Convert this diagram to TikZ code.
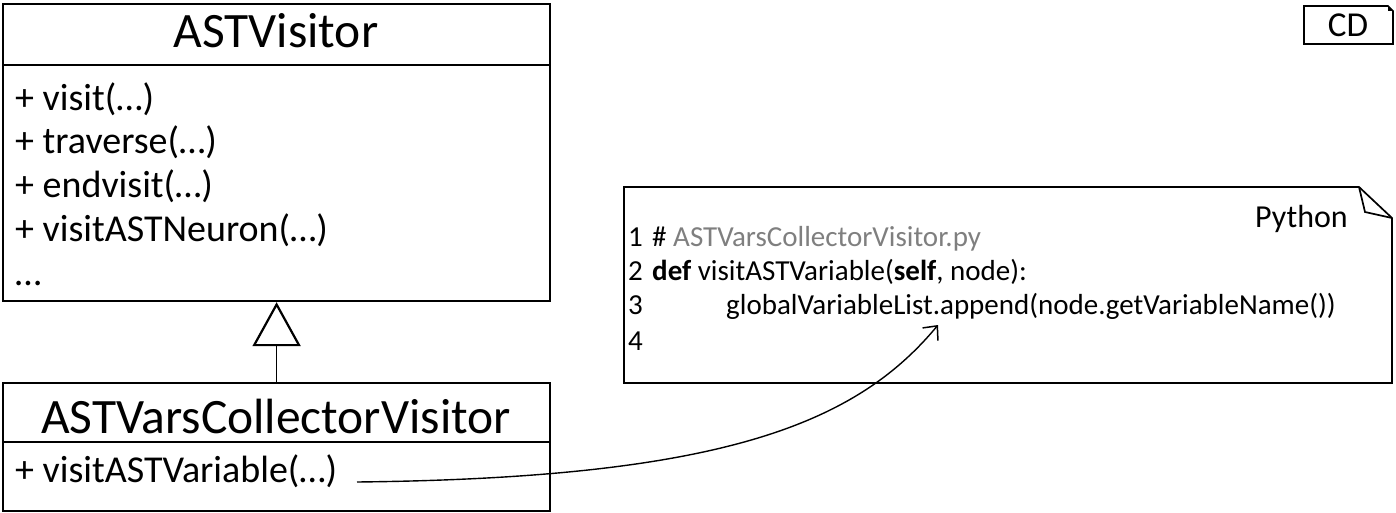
\documentclass[tikz,border=0pt]{standalone}
\usepackage{fontspec}
\setmainfont{Carlito}
\usetikzlibrary{arrows.meta}
\definecolor{commentgray}{HTML}{7F7F7F}
\begin{document}
\begin{tikzpicture}[x=1pt,y=-1pt,
  box/.style={draw, line width=2.2pt, inner sep=0pt, anchor=north west},
  divider/.style={line width=1.8pt},
  classname/.style={font=\fontsize{49.5}{58}\selectfont, inner sep=0pt, anchor=base},
  member/.style={font=\fontsize{38}{46}\selectfont, inner sep=0pt, anchor=base west},
  code/.style={font=\fontsize{29}{34}\selectfont, inner sep=0pt, anchor=base west},
  comment/.style={code, text=commentgray},
  outline/.style={line width=1.7pt, line join=miter},
  link/.style={line width=1.4pt, -{Straight Barb[length=11pt,width=20pt,line width=1.5pt]}}
]
\useasboundingbox (0,0) rectangle (1396,513);

% ASTVisitor class
\node[box, minimum width=547pt, minimum height=297pt] (visitor) at (2,3) {};
\draw[divider] ([yshift=-62pt]visitor.north west) -- ([yshift=-62pt]visitor.north east);
\node[classname] (visitorName) at (276,48) {ASTVisitor};
\node[member] (m1) at (15,111) {+ visit(…)};
\node[member] (m2) at (15,154) {+ traverse(…)};
\node[member] (m3) at (15,197) {+ endvisit(…)};
\node[member] (m4) at (15,241) {+ visitASTNeuron(…)};
\node[member] (m5) at (15,285) {…};

% ASTVarsCollectorVisitor class
\node[box, minimum width=547pt, minimum height=128pt] (collector) at (2,382) {};
\draw[divider] ([yshift=-60pt]collector.north west) -- ([yshift=-60pt]collector.north east);
\node[classname] (collectorName) at (276,433) {ASTVarsCollectorVisitor};
\node[member] (cm1) at (15,482) {+ visitASTVariable(…)};

% generalization
\draw[line width=1.3pt, -{Triangle[open,length=44pt,width=48pt,line width=2.2pt]}]
  (collector.north) -- (visitor.south);

% note
\coordinate (nA) at (1359,187);
\coordinate (nB) at (1365,212);
\coordinate (nC) at (1392,218);
\draw[outline] (624,187) -- (nA) -- (nC) -- (1392,383) -- (624,383) -- cycle;
\draw[outline] (nA) -- (nB) -- (nC);
\node[font=\fontsize{32}{38}\selectfont, inner sep=0pt, anchor=base east] (lang) at (1348,227) {Python};
\node[code] (n1) at (628,246) {1};
\node[comment] (c1) at (652,246) {\textcolor{black}{\#} ASTVarsCollectorVisitor.py};
\node[code] (n2) at (628,280) {2};
\node[code] (c2) at (652,280) {\textbf{def} visitASTVariable(\textbf{self}, node):};
\node[code] (n3) at (628,314) {3};
\node[code] (c3) at (726,314) {globalVariableList.append(node.getVariableName())};
\node[code] (n4) at (628,350) {4};

% CD tag
\draw[outline] (1304,6) -- (1388,6) -- (1393,11) -- (1393,44) -- (1304,44) -- cycle;
\fill (1388,6) -- (1393,11) -- (1388,11) -- cycle;
\node[font=\fontsize{35}{42}\selectfont, inner sep=0pt, anchor=base] (cd) at (1348,37) {CD};

% reference arrow
\coordinate (arrowStart) at (357,482);
\coordinate (codeRef) at (938,325);
\draw[link] (arrowStart) .. controls (720,478) and (855,425) .. (codeRef);
\end{tikzpicture}
\end{document}
